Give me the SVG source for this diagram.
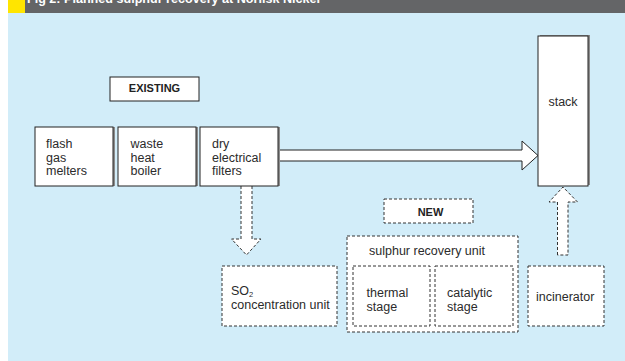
<svg xmlns="http://www.w3.org/2000/svg" width="625" height="361" viewBox="0 0 625 361">
<style>
.t{font-family:"Liberation Sans",Arial,sans-serif;font-size:12.5px;fill:#2b2b2b}
.b{font-family:"Liberation Sans",Arial,sans-serif;font-size:11px;font-weight:bold;fill:#222}
.solid{fill:#fff;stroke:#222;stroke-width:1}
.shadow{fill:#8c8c8c}
.dash{fill:#fff;stroke:#333;stroke-width:1;stroke-dasharray:3 2}
</style>
<rect x="0" y="0" width="625" height="361" fill="#fff"/>
<rect x="8" y="13" width="617" height="348" fill="#d2edf9"/>
<rect x="8" y="0" width="617" height="13" fill="#646567"/>
<rect x="8" y="0" width="17" height="13" fill="#ffe500"/>
<text x="27" y="3" font-family="Liberation Sans,Arial,sans-serif" font-size="13" font-weight="bold" fill="#fff" textLength="293" lengthAdjust="spacingAndGlyphs">Fig 2: Planned sulphur recovery at Norilsk Nickel</text>

<g id="connectors">
<path class="solid" d="M278,150 H522 V141 L538,155.5 L522,170 V161 H278"/>
<path class="dash" d="M241,186 V239 H231.5 L246.5,255 L261,239 H252 V186"/>
<path class="dash" d="M557.5,255 V202 H549 L563,187 L577.5,202 H568 V255 Z"/>
</g>

<g id="existing-label">
<rect class="solid" x="110" y="77" width="89" height="24"/>
<text class="b" x="154.5" y="92" text-anchor="middle">EXISTING</text>
</g>

<g id="flash-gas-melters">
<rect class="shadow" x="37" y="127" width="78" height="59"/>
<rect class="solid" x="35" y="127" width="78" height="59"/>
<text class="t" x="46" y="148">flash</text>
<text class="t" x="46" y="161.5">gas</text>
<text class="t" x="46" y="175">melters</text>
</g>

<g id="waste-heat-boiler">
<rect class="shadow" x="120" y="127" width="78" height="59"/>
<rect class="solid" x="118" y="127" width="78" height="59"/>
<text class="t" x="130.5" y="148">waste</text>
<text class="t" x="130.5" y="161.5">heat</text>
<text class="t" x="130.5" y="175">boiler</text>
</g>

<g id="dry-electrical-filters">
<rect class="shadow" x="202" y="127" width="78" height="59"/>
<rect class="solid" x="200" y="127" width="78" height="59"/>
<text class="t" x="212" y="148">dry</text>
<text class="t" x="212" y="161.5">electrical</text>
<text class="t" x="212" y="175">filters</text>
</g>

<g id="stack">
<rect class="shadow" x="540" y="35" width="50" height="150"/>
<rect class="solid" x="538" y="36" width="50" height="150"/>
<text class="t" x="563" y="106" text-anchor="middle">stack</text>
</g>

<g id="new-label">
<rect class="dash" x="384" y="199" width="89" height="24"/>
<text class="b" x="430.5" y="216" text-anchor="middle">NEW</text>
</g>

<g id="so2-concentration-unit">
<rect class="dash" x="222" y="266" width="115" height="60"/>
<text class="t" x="231" y="294.5">SO<tspan font-size="7.5" dy="2.5">2</tspan></text>
<text class="t" x="231" y="309">concentration unit</text>
</g>

<g id="sulphur-recovery-unit">
<rect class="dash" x="347" y="236" width="171" height="96"/>
<text class="t" x="369" y="254.5">sulphur recovery unit</text>
</g>

<g id="thermal-stage">
<rect class="dash" x="353" y="266" width="77" height="60"/>
<text class="t" x="366.5" y="297">thermal</text>
<text class="t" x="366.5" y="310.5">stage</text>
</g>

<g id="catalytic-stage">
<rect class="dash" x="435" y="266" width="78" height="60"/>
<text class="t" x="447" y="297">catalytic</text>
<text class="t" x="447" y="310.5">stage</text>
</g>

<g id="incinerator">
<rect class="dash" x="528" y="266" width="76" height="60"/>
<text class="t" x="536" y="300.5">incinerator</text>
</g>
</svg>
